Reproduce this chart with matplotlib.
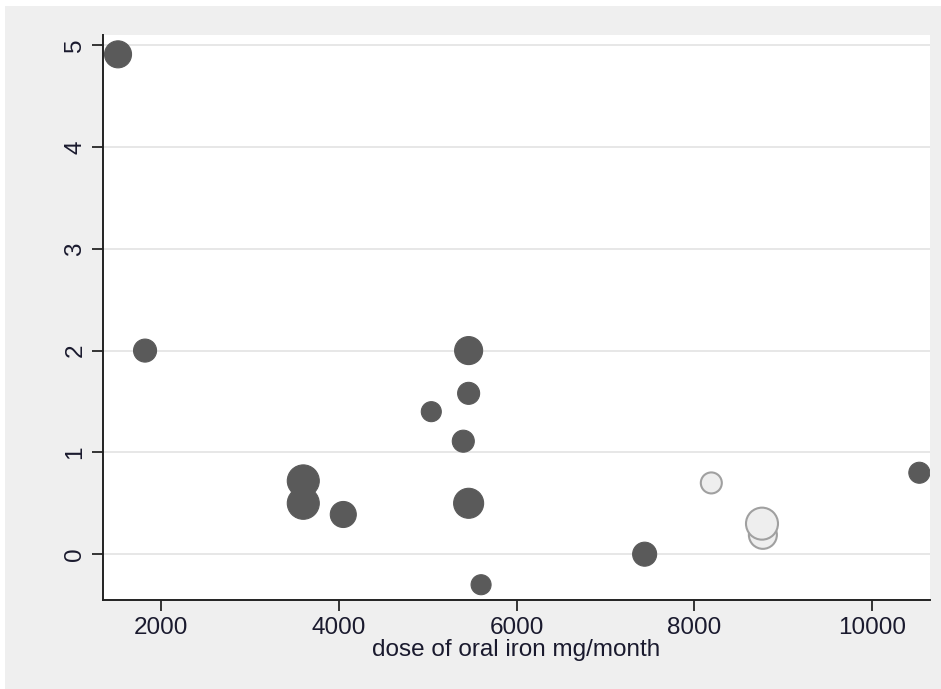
import matplotlib
matplotlib.use("Agg")
import matplotlib.pyplot as plt
from matplotlib.patches import Rectangle
import numpy as np

plt.rcParams['font.family'] = ['Liberation Sans', 'DejaVu Sans']

# data
dose = [1516, 1820, 3600, 3600, 4050, 5040, 5400, 5460, 5460, 5460, 5600, 7440, 10530]
effect = [4.91, 2.00, 0.72, 0.50, 0.39, 1.40, 1.11, 1.58, 2.00, 0.50, -0.30, 0.00, 0.80]
weight = [27, 23, 32, 32, 26, 20, 22, 22, 28, 30, 20, 24, 21]

dose_light = [8190, 8770, 8760]
effect_light = [0.70, 0.19, 0.30]
weight_light = [21, 28, 32]

xticks = [2000, 4000, 6000, 8000, 10000]
yticks = [0, 1, 2, 3, 4, 5]
xlabel = "dose of oral iron mg/month"

fig = plt.figure(figsize=(9.41, 6.89), dpi=100)
fig.patch.set_facecolor('white')
fig.patches.append(Rectangle((5/941, 0), 1 - 5/941, 1 - 6/689, transform=fig.transFigure,
                             facecolor='#efefef', edgecolor='none', zorder=-10))

ax = fig.add_axes([103/941, 1 - 600/689, (930 - 103)/941, (600 - 35)/689])
ax.set_facecolor('white')

def sz(w):
    return (np.array(w) * 0.72) ** 2

ax.scatter(dose, effect, s=sz(weight), facecolor='#5a5a5a', edgecolor='#5a5a5a',
           linewidth=0.8, zorder=3)
ax.scatter(dose_light, effect_light, s=sz(weight_light), facecolor='#eeeeee',
           edgecolor='#a0a0a0', linewidth=1.5, zorder=3)

ax.set_xlim(1347, 10650)
ax.set_ylim(-0.45, 5.1)
ax.set_xticks(xticks)
ax.set_yticks(yticks)
ax.grid(axis='y', color='#e3e3e3', linewidth=1.2, zorder=0)
ax.set_axisbelow(True)

for s in ['top', 'right']:
    ax.spines[s].set_visible(False)
for s in ['left', 'bottom']:
    ax.spines[s].set_linewidth(1.4)
    ax.spines[s].set_color('#222222')

ax.tick_params(axis='both', direction='out', length=8, width=1.4, color='#333333',
               labelsize=17.5, pad=4, labelcolor='#1a1a2e')
for lab in ax.get_yticklabels():
    lab.set_rotation(90)
    lab.set_va('center')
ax.set_xlabel(xlabel, fontsize=17.5, labelpad=0, color='#1a1a2e')

fig.savefig('out.png', dpi=100, facecolor=fig.get_facecolor())
